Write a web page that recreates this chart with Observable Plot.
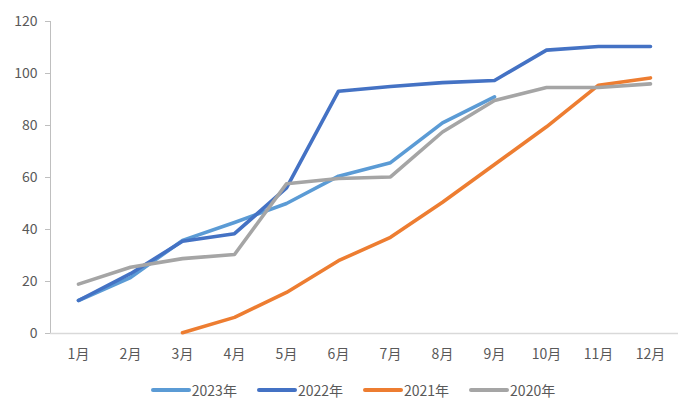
<!DOCTYPE html>
<html><head><meta charset="utf-8">
<script src="https://cdn.jsdelivr.net/npm/d3@7"></script>
<script src="https://cdn.jsdelivr.net/npm/@observablehq/plot@0.6"></script>
<style>
body{margin:0;background:#fff;font-family:"Noto Sans CJK SC","Noto Sans",sans-serif;}
#legend{display:flex;justify-content:center;gap:20px;margin-top:10px;font-size:14px;color:#595959;padding-left:6px;}
#legend span{display:flex;align-items:center;}
#legend i{display:inline-block;width:40px;height:4px;border-radius:2px;margin-right:1px;}
</style></head><body>
<div id="chart"></div>
<div id="legend"></div>
<script>
const months = ["1月","2月","3月","4月","5月","6月","7月","8月","9月","10月","11月","12月"];
const series = ["2023年","2022年","2021年","2020年"];
const colors = ["#5B9BD5","#4472C4","#ED7D31","#A5A5A5"];
const v2023 = [12.7,21.5,35.8,42.7,50,60.5,65.7,81,91,null,null,null];
const v2022 = [12.7,23,35.5,38.4,56,93.2,95,96.5,97.3,109,110.4,110.4];
const v2021 = [null,null,0.3,6.2,15.8,28,37,50.5,65,79.5,95.5,98.3];
const v2020 = [19,25.5,28.8,30.4,57.6,59.6,60.2,77.5,89.6,94.6,94.6,96];
const yTicks = [0,20,40,60,80,100,120];

const values = [v2023,v2022,v2021,v2020];
const data = [];
series.forEach((s,i)=>months.forEach((m,j)=>{ if(values[i][j]!=null) data.push({series:s,month:m,value:values[i][j]}); }));

const chart = Plot.plot({
  width:700, height:370,
  marginLeft:50, marginRight:22, marginTop:21, marginBottom:37,
  style:{fontFamily:'"Noto Sans CJK SC","Noto Sans",sans-serif', fontSize:"14px", color:"#595959"},
  x:{type:"point", domain:months, padding:0.5},
  y:{domain:[0,120]},
  color:{domain:series, range:colors},
  marks:[
    Plot.frame({anchor:"left", stroke:"#BFBFBF"}),
    Plot.ruleY([0],{stroke:"#D9D9D9", strokeWidth:1.5}),
    Plot.axisY({ticks:yTicks, tickSize:5, tickPadding:8, stroke:"#BFBFBF", label:null, fill:"#595959", fontSize:14}),
    Plot.axisX({tickSize:0, tickPadding:16, label:null, fill:"#595959", fontSize:14}),
    Plot.line(data,{x:"month", y:"value", z:"series", stroke:"series", strokeWidth:3.6, strokeLinejoin:"round", strokeLinecap:"round"})
  ]
});
document.getElementById("chart").appendChild(chart);
const lg = document.getElementById("legend");
series.forEach((s,i)=>{ const sp=document.createElement("span"); sp.innerHTML=`<i style="background:${colors[i]}"></i>${s}`; lg.appendChild(sp); });
</script>
</body></html>
